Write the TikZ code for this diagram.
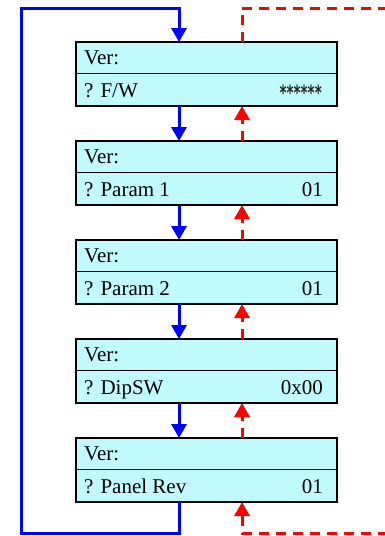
\documentclass[tikz,border=0pt]{standalone}
\usepackage{fontspec}
\setmainfont{Liberation Serif}
\newfontfamily\starfont[FakeStretch=0.64]{DejaVu Sans Bold}
\usetikzlibrary{arrows.meta}
\definecolor{boxfill}{RGB}{192,250,255}
\begin{document}
\begin{tikzpicture}[x=1pt,y=-1pt,
  panel/.style={draw=black,line width=2.5pt,fill=boxfill,minimum width=261pt,minimum height=64pt,inner sep=0pt,outer sep=0pt,anchor=north west},
  divider/.style={draw=black,line width=1.5pt},
  txt/.style={font=\fontsize{21}{25}\selectfont,inner sep=0pt},
  stars/.style={font=\starfont\fontsize{21}{25}\selectfont,inner sep=0pt,text=black!85},
  fwd/.style={draw=blue,line width=3pt,line join=miter,-{Triangle[width=15pt,length=14pt]}},
  back/.style={draw=red,line width=3pt,line join=miter,dash pattern=on 10pt off 7pt,-{Triangle[width=15pt,length=14pt]}},
]
\useasboundingbox (0,0) rectangle (385,536);
\coordinate (bx) at (179,0);
\coordinate (rx) at (242,0);
\foreach \i/\lab/\val in {1/{? F/W}/{},2/{? Param 1}/01,3/{? Param 2}/01,4/{? DipSW}/0x00,5/{? Panel Rev}/01}{
  \node[panel] (b\i) at (76,{42+99*(\i-1)}) {};
  \draw[divider] ([yshift=-31.5pt]b\i.north west) -- ([yshift=-31.5pt]b\i.north east);
  \node[txt,anchor=base west] (v\i) at (84,{42+99*(\i-1)+22.5}) {Ver:};
  \node[txt,anchor=base west] (p\i) at (84,{42+99*(\i-1)+55}) {\lab};
  \node[txt,anchor=base east] (n\i) at (323,{42+99*(\i-1)+55}) {\val};
}
\node[stars,anchor=base east] (s1) at (322,100) {******};
% forward and back arrows between panels
\foreach \i/\j in {1/2,2/3,3/4,4/5}{
  \draw[fwd] (b\i.south -| bx) -- (b\j.north -| bx);
  \draw[back] (b\j.north -| rx) -- (b\i.south -| rx);
}
% blue loop
\coordinate (tl) at (21,8);
\coordinate (tr) at (179,8);
\coordinate (bl) at (21,533);
\coordinate (br) at (179,533);
\draw[fwd] (b5.south -| bx) -- (br) -- (bl) -- (tl) -- (tr) -- (b1.north -| bx);
% red loop
\coordinate (rt) at (242,8);
\coordinate (rte) at (388,8);
\coordinate (rb) at (242,533);
\coordinate (rbe) at (388,533);
\draw[back,-] (b1.north -| rx) -- (rt) -- (rte);
\draw[back] (rbe) -- (rb) -- (b5.south -| rx);
\end{tikzpicture}
\end{document}
